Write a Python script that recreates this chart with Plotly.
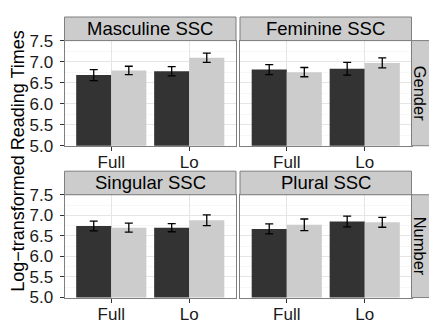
import plotly.graph_objects as go

# ---- data ----
panels = ["Masculine SSC", "Feminine SSC", "Singular SSC", "Plural SSC"]
row_labels = ["Gender", "Number"]
conditions = ["Full", "Lo"]
dark_means = [[6.68, 6.77], [6.81, 6.83], [6.74, 6.70], [6.67, 6.85]]
dark_se = [[0.13, 0.11], [0.12, 0.15], [0.12, 0.10], [0.12, 0.13]]
light_means = [[6.79, 7.09], [6.75, 6.97], [6.70, 6.88], [6.77, 6.83]]
light_se = [[0.10, 0.11], [0.11, 0.12], [0.11, 0.13], [0.14, 0.12]]
y_ticks = [5.0, 5.5, 6.0, 6.5, 7.0, 7.5]
y_title = "Log\u2212transformed Reading Times"

W, H = 429, 333
FONT = "Liberation Sans, Arial, Helvetica, sans-serif"
DARK, LIGHT = "#333333", "#cccccc"
BORDER = "#7f7f7f"

# pixel layout
col_x = [(64.5, 236.0), (240.0, 411.5)]
row_y = [(33.5, 145.0), (197.0, 306.0)]   # plot area (top, bottom) in px from top
strip_h = 25.0
rstrip_w = 18.0

def px(x):
    return x / W

def py(y):
    return 1 - y / H

fig = go.Figure()
shapes = []
annotations = []

for i, name in enumerate(panels):
    r, c = divmod(i, 2)
    k = "" if i == 0 else str(i + 1)
    xa, ya = "x" + k, "y" + k
    fig.add_trace(go.Bar(
        x=conditions, y=dark_means[i], base=0, marker_color=DARK, marker_line_width=0,
        error_y=dict(type="data", array=dark_se[i], color="black", thickness=1.3, width=4),
        xaxis=xa, yaxis=ya, showlegend=False))
    fig.add_trace(go.Bar(
        x=conditions, y=light_means[i], base=0, marker_color=LIGHT, marker_line_width=0,
        error_y=dict(type="data", array=light_se[i], color="black", thickness=1.3, width=4),
        xaxis=xa, yaxis=ya, showlegend=False))
    x0, x1 = col_x[c]
    t, b = row_y[r]
    fig.layout["xaxis" + k] = dict(
        domain=[px(x0), px(x1)], anchor=ya, range=[-0.6, 1.6], type="category",
        showgrid=True, gridcolor="#e5e5e5", gridwidth=1,
        showline=True, mirror=True, linecolor=BORDER, linewidth=1,
        ticks="outside", ticklen=4, tickcolor="#333333", tickwidth=1,
        ticklabelstandoff=-3,
        tickfont=dict(family=FONT, size=17, color="#1a1a1a"), zeroline=False,
        fixedrange=True)
    fig.layout["yaxis" + k] = dict(
        domain=[py(b), py(t)], anchor=xa, range=[5.0, 7.5],
        tickvals=y_ticks, ticktext=["%.1f" % v for v in y_ticks],
        showgrid=True, gridcolor="#e5e5e5", gridwidth=1,
        minor=dict(dtick=0.25, tick0=5.25, showgrid=True, gridcolor="#f7f7f7", gridwidth=1),
        showline=True, mirror=True, linecolor=BORDER, linewidth=1,
        ticks="outside" if c == 0 else "", ticklen=4, tickcolor="#333333", tickwidth=1,
        showticklabels=(c == 0), ticklabelstandoff=3,
        tickfont=dict(family=FONT, size=17, color="#1a1a1a"), zeroline=False,
        fixedrange=True)
    # top strip
    shapes.append(dict(type="rect", xref="paper", yref="paper",
                       x0=px(x0), x1=px(x1), y0=py(t), y1=py(t - strip_h),
                       fillcolor="#cccccc", line=dict(color=BORDER, width=1), layer="above"))
    annotations.append(dict(xref="paper", yref="paper", x=px((x0 + x1) / 2),
                            y=py(t - strip_h / 2), text=name, showarrow=False,
                            font=dict(family=FONT, size=18.5, color="black"),
                            xanchor="center", yanchor="middle"))

for r, lab in enumerate(row_labels):
    t, b = row_y[r]
    x0 = col_x[1][1]
    shapes.append(dict(type="rect", xref="paper", yref="paper",
                       x0=px(x0), x1=px(x0 + rstrip_w), y0=py(b), y1=py(t),
                       fillcolor="#cccccc", line=dict(color=BORDER, width=1), layer="above"))
    annotations.append(dict(xref="paper", yref="paper", x=px(x0 + rstrip_w / 2 - 1),
                            y=py((t + b) / 2), text=lab, showarrow=False, textangle=90,
                            font=dict(family=FONT, size=16.5, color="black"),
                            xanchor="center", yanchor="middle", borderpad=0))

annotations.append(dict(xref="paper", yref="paper", x=px(18), y=py(161),
                        text=y_title, showarrow=False, textangle=-90,
                        font=dict(family=FONT, size=18, color="black"),
                        xanchor="center", yanchor="middle"))

fig.update_layout(
    width=W, height=H, margin=dict(l=0, r=0, t=0, b=0),
    paper_bgcolor="white", plot_bgcolor="white",
    barmode="group", bargap=0.1, bargroupgap=0,
    shapes=shapes, annotations=annotations, showlegend=False,
)

fig.write_html("out.html", config={"displayModeBar": False},
               post_script="document.body.style.margin='0';document.body.style.overflow='hidden';")
